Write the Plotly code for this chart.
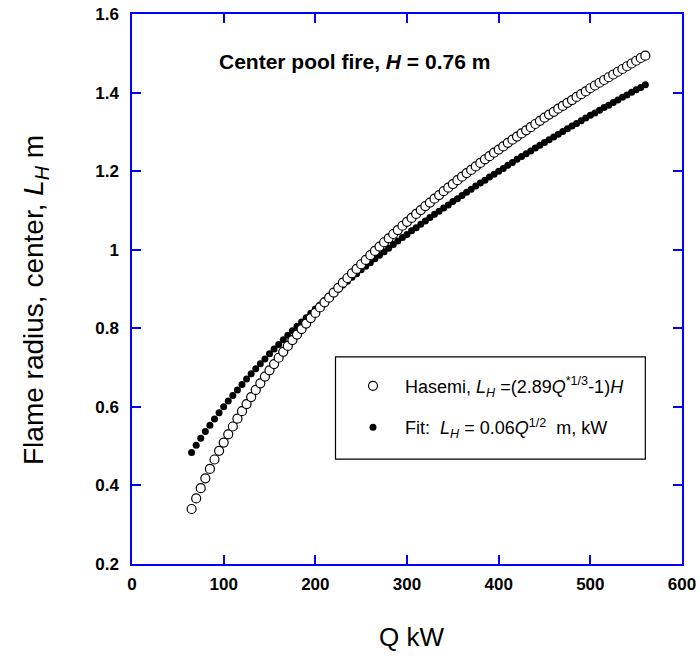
import plotly.graph_objects as go

# Heat release rate, kW
q_kw = [65, 70, 75, 80, 85, 90, 95, 100, 105, 110, 115, 120, 125, 130, 135, 140, 145, 150, 155, 160,
        165, 170, 175, 180, 185, 190, 195, 200, 205, 210, 215, 220, 225, 230, 235, 240, 245, 250, 255, 260,
        265, 270, 275, 280, 285, 290, 295, 300, 305, 310, 315, 320, 325, 330, 335, 340, 345, 350, 355, 360,
        365, 370, 375, 380, 385, 390, 395, 400, 405, 410, 415, 420, 425, 430, 435, 440, 445, 450, 455, 460,
        465, 470, 475, 480, 485, 490, 495, 500, 505, 510, 515, 520, 525, 530, 535, 540, 545, 550, 555, 560]

# Hasemi correlation, flame radius L_H (m)
hasemi_lh = [0.340, 0.367, 0.393, 0.418, 0.442, 0.466, 0.488, 0.509, 0.530, 0.550,
             0.570, 0.589, 0.607, 0.625, 0.643, 0.660, 0.677, 0.693, 0.709, 0.725,
             0.740, 0.755, 0.770, 0.784, 0.798, 0.812, 0.826, 0.839, 0.853, 0.866,
             0.878, 0.891, 0.903, 0.916, 0.928, 0.940, 0.951, 0.963, 0.974, 0.986,
             0.997, 1.008, 1.019, 1.029, 1.040, 1.050, 1.061, 1.071, 1.081, 1.091,
             1.101, 1.111, 1.120, 1.130, 1.139, 1.149, 1.158, 1.167, 1.177, 1.186,
             1.195, 1.203, 1.212, 1.221, 1.230, 1.238, 1.247, 1.255, 1.263, 1.272,
             1.280, 1.288, 1.296, 1.304, 1.312, 1.320, 1.328, 1.336, 1.344, 1.351,
             1.359, 1.366, 1.374, 1.381, 1.389, 1.396, 1.403, 1.411, 1.418, 1.425,
             1.432, 1.439, 1.446, 1.453, 1.460, 1.467, 1.474, 1.481, 1.488, 1.494]

# Square-root fit, flame radius L_H (m)
fit_lh = [0.484, 0.502, 0.520, 0.537, 0.553, 0.569, 0.585, 0.600, 0.615, 0.629,
          0.643, 0.657, 0.671, 0.684, 0.697, 0.710, 0.722, 0.735, 0.747, 0.759,
          0.771, 0.782, 0.794, 0.805, 0.816, 0.827, 0.838, 0.849, 0.859, 0.870,
          0.880, 0.890, 0.900, 0.910, 0.920, 0.930, 0.939, 0.949, 0.958, 0.967,
          0.977, 0.986, 0.995, 1.004, 1.013, 1.022, 1.031, 1.039, 1.048, 1.056,
          1.065, 1.073, 1.082, 1.090, 1.098, 1.106, 1.114, 1.123, 1.130, 1.138,
          1.146, 1.154, 1.162, 1.170, 1.177, 1.185, 1.192, 1.200, 1.207, 1.215,
          1.222, 1.230, 1.237, 1.244, 1.251, 1.259, 1.266, 1.273, 1.280, 1.287,
          1.294, 1.301, 1.308, 1.315, 1.321, 1.328, 1.335, 1.342, 1.348, 1.355,
          1.362, 1.368, 1.375, 1.381, 1.388, 1.394, 1.401, 1.407, 1.413, 1.420]

FONT = "Liberation Sans, Arial, sans-serif"
BLUE = "#0000ff"

fig = go.Figure()

fig.add_trace(go.Scatter(
    x=q_kw, y=fit_lh, mode="markers",
    name="Fit:  <i>L</i><sub><i>H</i></sub> = 0.06<i>Q</i><sup>1/2</sup>  m, kW",
    marker=dict(symbol="circle", size=7, color="black", line=dict(width=0)),
    legendgroup="fit", legendrank=2,
))
fig.add_trace(go.Scatter(
    x=q_kw, y=hasemi_lh, mode="markers",
    name="Hasemi, <i>L</i><sub><i>H</i></sub> =(2.89<i>Q</i><sup>*1/3</sup>-1)<i>H</i>",
    marker=dict(symbol="circle", size=9, color="white", line=dict(width=1.2, color="black")),
    legendgroup="hasemi", legendrank=1,
))

axis_common = dict(
    showline=True, linecolor=BLUE, linewidth=1.5, mirror="ticks",
    ticks="inside", ticklen=9, tickwidth=1.5, tickcolor=BLUE,
    showgrid=False, zeroline=False, automargin=False,
    tickfont=dict(family=FONT, size=17, color="black", weight="bold"),
)

fig.update_xaxes(range=[0, 600], dtick=100, tick0=0, ticklabelstandoff=4, **axis_common)
fig.update_yaxes(range=[0.2, 1.6], dtick=0.2, tick0=0.2, ticklabelstandoff=8, **axis_common)

# Legend frame
fig.add_shape(type="rect", xref="x", yref="y", x0=222, x1=560, y0=0.467, y1=0.727,
              line=dict(color="black", width=1.2), fillcolor="rgba(0,0,0,0)", layer="above")

fig.add_annotation(
    x=242.5, y=1.48, xref="x", yref="y", showarrow=False,
    text="<b>Center pool fire, <i>H</i> = 0.76 m</b>",
    font=dict(family=FONT, size=21, color="black"),
)

fig.add_annotation(
    x=305, y=0, xref="x", yref="paper", xanchor="center", yanchor="middle",
    yshift=-73, showarrow=False, text="Q kW",
    font=dict(family=FONT, size=26, color="black"),
)
fig.add_annotation(
    x=0, y=0.5, xref="paper", yref="paper", xanchor="center", yanchor="middle",
    xshift=-97, yshift=-11, showarrow=False, textangle=-90,
    text="Flame radius, center, <i>L</i><sub><i>H</i></sub> m",
    font=dict(family=FONT, size=28, color="black"),
)

fig.update_layout(
    width=700, height=661,
    margin=dict(l=132, r=18, t=14, b=97, autoexpand=False),
    paper_bgcolor="white", plot_bgcolor="white",
    showlegend=True,
    legend=dict(
        x=0.38, y=0.357, xanchor="left", yanchor="top",
        bgcolor="rgba(0,0,0,0)", borderwidth=0,
        font=dict(family=FONT, size=18, color="black"),
        traceorder="grouped", tracegroupgap=15, itemwidth=54,
    ),
)

fig.write_html("out.html")
